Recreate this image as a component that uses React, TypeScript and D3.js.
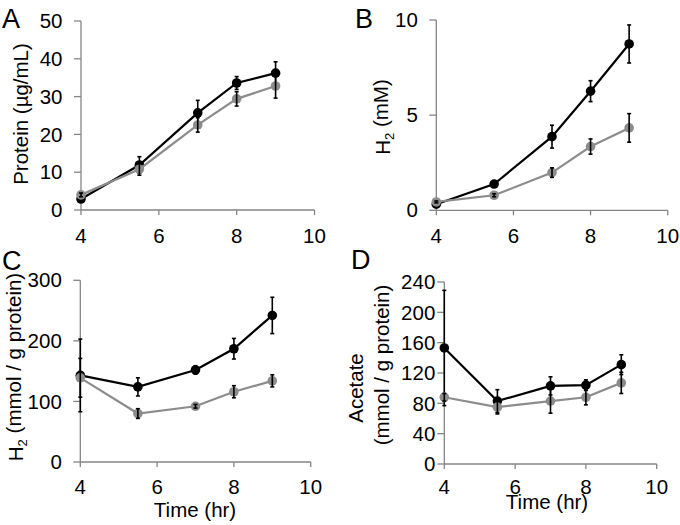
import React from "react";
import * as d3 from "d3";

const time = [4, 5.5, 7, 8, 9];

const proteinBlack = [2.9, 11.9, 25.7, 33.6, 36.2];
const proteinBlackErr = [0.5, 2.2, 3.3, 1.7, 3.0];
const proteinGray = [4.0, 10.8, 22.5, 29.4, 32.8];
const proteinGrayErr = [0.5, 1.6, 1.9, 1.9, 3.2];

const h2Black = [0.32, 1.38, 3.87, 6.26, 8.74];
const h2BlackErr = [0.05, 0.1, 0.6, 0.55, 1.0];
const h2Gray = [0.44, 0.79, 1.98, 3.35, 4.33];
const h2GrayErr = [0.05, 0.08, 0.25, 0.4, 0.75];

const h2pBlack = [143, 124, 152, 187, 242];
const h2pBlackErr = [60, 15, 7, 17, 30];
const h2pGray = [139, 80, 92, 116, 134];
const h2pGrayErr = [32, 8, 3, 10, 10];

const acBlack = [153, 83, 103, 104, 131];
const acBlackErr = [76, 15, 12, 7, 13];
const acGray = [88, 75, 83, 88, 107];
const acGrayErr = [5, 9, 16, 10, 14];

const xTicks = [4, 6, 8, 10];
const proteinTicks = [0, 10, 20, 30, 40, 50];
const h2Ticks = [0, 5, 10];
const h2pTicks = [0, 100, 200, 300];
const acTicks = [0, 40, 80, 120, 160, 200, 240];

const BLACK = "#000000";
const GRAY = "#8c8c8c";
const AXIS = "#858585";
const FONT = "'Liberation Sans', Arial, sans-serif";
const FS = 20.5;

type Series = { y: number[]; err: number[]; color: string };

type PanelProps = {
  letter: string;
  letterPos: [number, number];
  px: [number, number];
  py: [number, number];
  yMax: number;
  yTicks: number[];
  yLabelOffset: number;
  series: Series[];
  yTitle: React.ReactNode;
  xTitle?: { x: number; y: number };
  xTickY: number;
};

function Panel(p: PanelProps) {
  const x = d3.scaleLinear().domain([4, 10]).range(p.px);
  const y = d3.scaleLinear().domain([0, p.yMax]).range(p.py);
  const line = d3
    .line<number>()
    .x((_, i) => x(time[i]))
    .y((d) => y(d));
  return (
    <g>
      <text x={p.letterPos[0]} y={p.letterPos[1]} fontSize={27} fontFamily={FONT} fill="#000">
        {p.letter}
      </text>
      <line x1={x(4)} x2={x(4)} y1={y(0)} y2={y(p.yMax)} stroke={AXIS} strokeWidth={1.3} />
      <line x1={x(4)} x2={x(10)} y1={y(0)} y2={y(0)} stroke={AXIS} strokeWidth={1.3} />
      {p.yTicks.map((t) => (
        <g key={"y" + t}>
          <line x1={x(4) - 7} x2={x(4)} y1={y(t)} y2={y(t)} stroke={AXIS} strokeWidth={1.3} />
          <text
            x={x(4) - p.yLabelOffset}
            y={y(t)}
            dy="0.35em"
            textAnchor="end"
            fontSize={FS}
            fontFamily={FONT}
            fill="#000"
          >
            {t}
          </text>
        </g>
      ))}
      {xTicks.map((t) => (
        <g key={"x" + t}>
          <line x1={x(t)} x2={x(t)} y1={y(0)} y2={y(0) + 5} stroke={AXIS} strokeWidth={1.3} />
          <text
            x={x(t)}
            y={p.xTickY}
            dy="0.35em"
            textAnchor="middle"
            fontSize={FS}
            fontFamily={FONT}
            fill="#000"
          >
            {t}
          </text>
        </g>
      ))}
      {p.yTitle}
      {p.xTitle && (
        <text
          x={p.xTitle.x}
          y={p.xTitle.y}
          dy="0.35em"
          textAnchor="middle"
          fontSize={FS}
          fontFamily={FONT}
          fill="#000"
        >
          Time (hr)
        </text>
      )}
      {p.series.map((s, si) => (
        <g key={"s" + si}>
          <path d={line(s.y) || ""} fill="none" stroke={s.color} strokeWidth={2.2} />
          {s.y.map((v, i) => (
            <circle key={i} cx={x(time[i])} cy={y(v)} r={4.8} fill={s.color} />
          ))}
          {s.y.map((v, i) => (
            <g key={"e" + i}>
              <line
                x1={x(time[i])}
                x2={x(time[i])}
                y1={y(v - s.err[i])}
                y2={y(v + s.err[i])}
                stroke="#000"
                strokeWidth={1.6}
              />
              <line
                x1={x(time[i]) - 2}
                x2={x(time[i]) + 2}
                y1={y(v - s.err[i])}
                y2={y(v - s.err[i])}
                stroke="#000"
                strokeWidth={1.6}
              />
              <line
                x1={x(time[i]) - 2}
                x2={x(time[i]) + 2}
                y1={y(v + s.err[i])}
                y2={y(v + s.err[i])}
                stroke="#000"
                strokeWidth={1.6}
              />
            </g>
          ))}
        </g>
      ))}
    </g>
  );
}

function rotTitle(cx: number, cy: number, content: React.ReactNode) {
  return (
    <text
      transform={`translate(${cx},${cy}) rotate(-90)`}
      textAnchor="middle"
      dy="0.35em"
      fontSize={FS}
      fontFamily={FONT}
      fill="#000"
    >
      {content}
    </text>
  );
}

export default function App() {
  return (
    <svg
      width={680}
      height={525}
      style={{ position: "absolute", left: 0, top: 0, background: "#fff" }}
    >
      <rect width={680} height={525} fill="#fff" />
      <Panel
        letter="A"
        letterPos={[2, 28]}
        px={[81, 314.5]}
        py={[210, 21]}
        yMax={50}
        yTicks={proteinTicks}
        yLabelOffset={18.5}
        series={[
          { y: proteinBlack, err: proteinBlackErr, color: BLACK },
          { y: proteinGray, err: proteinGrayErr, color: GRAY },
        ]}
        yTitle={rotTitle(21, 114, "Protein (µg/mL)")}
        xTickY={236}
      />
      <Panel
        letter="B"
        letterPos={[355, 28]}
        px={[436.3, 667.7]}
        py={[210.3, 20]}
        yMax={10}
        yTicks={h2Ticks}
        yLabelOffset={18.5}
        series={[
          { y: h2Black, err: h2BlackErr, color: BLACK },
          { y: h2Gray, err: h2GrayErr, color: GRAY },
        ]}
        yTitle={rotTitle(
          383,
          117,
          <>
            H<tspan fontSize={13} dy="0.3em">2</tspan>
            <tspan dy="-0.3em"> (mM)</tspan>
          </>
        )}
        xTickY={236}
      />
      <Panel
        letter="C"
        letterPos={[2, 270]}
        px={[80.3, 310.7]}
        py={[462, 280.3]}
        yMax={300}
        yTicks={h2pTicks}
        yLabelOffset={18.5}
        series={[
          { y: h2pBlack, err: h2pBlackErr, color: BLACK },
          { y: h2pGray, err: h2pGrayErr, color: GRAY },
        ]}
        yTitle={rotTitle(
          16,
          367,
          <>
            H<tspan fontSize={13} dy="0.3em">2</tspan>
            <tspan dy="-0.3em"> (mmol / g protein)</tspan>
          </>
        )}
        xTitle={{ x: 195, y: 510 }}
        xTickY={487}
      />
      <Panel
        letter="D"
        letterPos={[351, 269]}
        px={[444.3, 656.7]}
        py={[464, 282]}
        yMax={240}
        yTicks={acTicks}
        yLabelOffset={9}
        series={[
          { y: acBlack, err: acBlackErr, color: BLACK },
          { y: acGray, err: acGrayErr, color: GRAY },
        ]}
        yTitle={
          <>
            {rotTitle(356, 388, "Acetate")}
            {rotTitle(382, 365, "(mmol / g protein)")}
          </>
        }
        xTitle={{ x: 547, y: 502 }}
        xTickY={487}
      />
    </svg>
  );
}
